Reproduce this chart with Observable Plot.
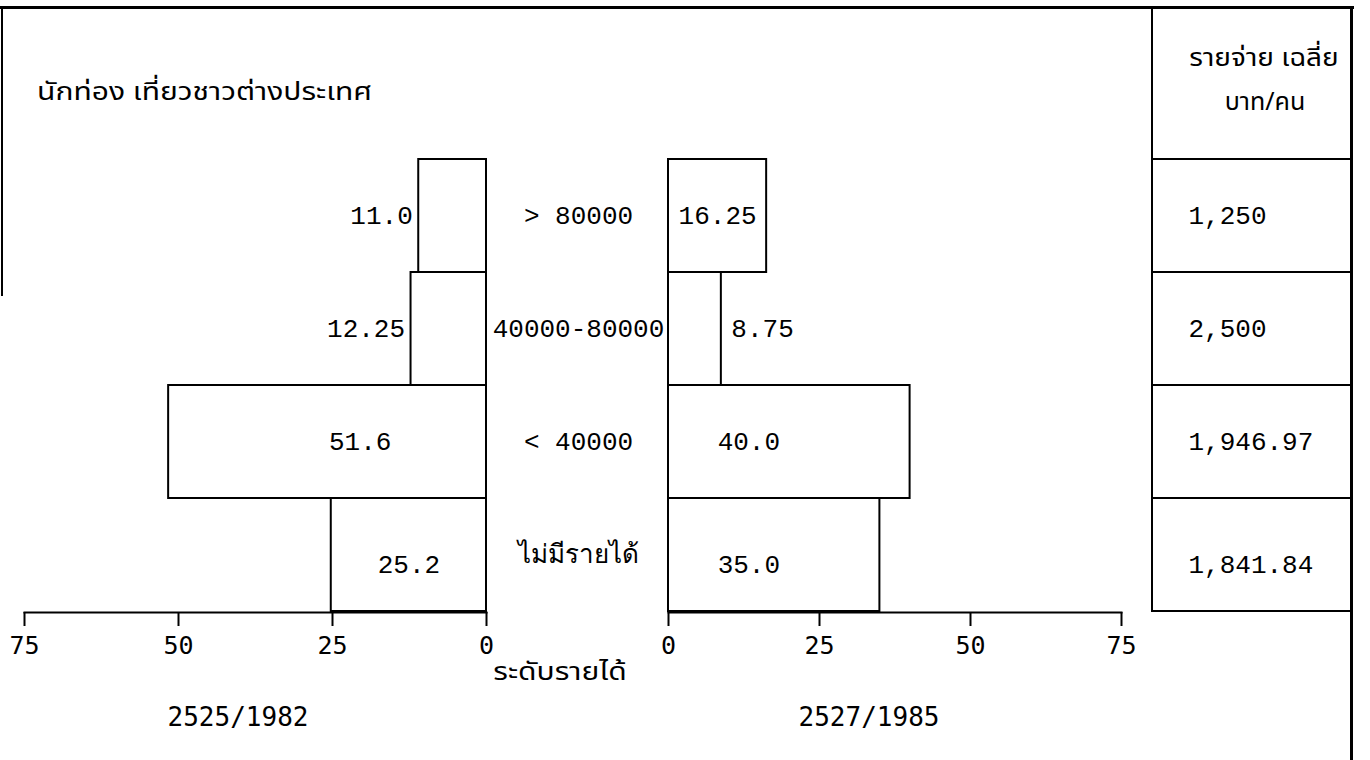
<!DOCTYPE html>
<html>
<head>
<meta charset="utf-8">
<script src="https://cdn.jsdelivr.net/npm/d3@7"></script>
<script src="https://cdn.jsdelivr.net/npm/@observablehq/plot@0.6"></script>
<style>
  body { margin: 0; background: #fff; }
  #wrap { position: relative; width: 1370px; height: 760px; overflow: hidden; background: #fff; }
  #wrap svg { position: absolute; left: 0; top: 0; }
  .ln { position: absolute; background: #000; }
  .t { position: absolute; white-space: nowrap; color: #000; line-height: 1; }
  .thai { font-family: "Noto Sans Thai", "Loma", "Garuda", "Norasi", "Tlwg Typo", "DejaVu Sans", sans-serif; font-size: 25px; }
  .mono { font-family: "DejaVu Sans Mono", monospace; font-size: 26px; }
</style>
</head>
<body>
<div id="wrap"></div>
<script>
// ---------- data ----------
const levels = ["> 80000", "40000-80000", "< 40000", "ไม่มีรายได้"];
const share1982 = [11.0, 12.25, 51.6, 25.2];
const share1985 = [16.25, 8.75, 40.0, 35.0];
const spending = [1250, 2500, 1946.97, 1841.84];
const xTicks = [0, 25, 50, 75];
const title = "นักท่อง เที่ยวชาวต่างประเทศ";
const tableHeader = ["รายจ่าย เฉลี่ย", "บาท/คน"];
const yLabel = "ระดับรายได้";
const years = ["2525/1982", "2527/1985"];

// ---------- tables ----------
const rows1982 = levels.map((level, i) => ({level, value: share1982[i]}));
const rows1985 = levels.map((level, i) => ({level, value: share1985[i]}));
const rowsSpend = levels.map((level, i) => ({level, value: spending[i]}));

const fmtShare = v => Math.abs(v * 10 - Math.round(v * 10)) < 1e-9 ? v.toFixed(1) : v.toFixed(2);
const fmtSpend = d3.format(",");

const W = 1370, H = 760;
const valueFont = {fontSize: 26, fontFamily: "Liberation Mono, monospace"};
const tickFont = {fontSize: 25, fontFamily: "DejaVu Sans Mono, monospace"};
const common = {
  width: W, height: H, marginTop: 158, marginBottom: 148,
  style: {background: "none", overflow: "visible"}
};
const yBand = {domain: levels, padding: 0};
const lastLevel = levels[levels.length - 1];

// text labels: the bottom row's labels sit slightly lower in the original
function labels(rows, options) {
  return [
    Plot.text(rows.filter(d => d.level !== lastLevel), options),
    Plot.text(rows.filter(d => d.level === lastLevel), {...options, dy: 10})
  ];
}

// ---------- left: 2525/1982 ----------
const left = Plot.plot({
  ...common, marginLeft: 24, marginRight: W - 486,
  x: {domain: [0, 75], reverse: true},
  y: {...yBand, axis: null},
  marks: [
    Plot.barX(rows1982, {x: "value", y: "level", fill: "white", stroke: "black", strokeWidth: 2}),
    Plot.frame({anchor: "bottom", strokeWidth: 2}),
    Plot.axisX({ticks: xTicks, tickSize: 14, tickPadding: 10, strokeWidth: 2, label: null, ...tickFont}),
    labels(rows1982.filter(d => d.value < 15), {
      x: "value", y: "level", text: d => fmtShare(d.value), textAnchor: "end", dx: -6, ...valueFont
    }),
    labels(rows1982.filter(d => d.value >= 15), {
      x: d => Math.min(d.value / 2, 20.5), y: "level", text: d => fmtShare(d.value), ...valueFont
    })
  ]
});

// ---------- right: 2527/1985 ----------
const right = Plot.plot({
  ...common, marginLeft: 668, marginRight: W - 1121,
  x: {domain: [0, 75]},
  y: yBand,
  marks: [
    Plot.barX(rows1985, {x: "value", y: "level", fill: "white", stroke: "black", strokeWidth: 2}),
    Plot.frame({anchor: "bottom", strokeWidth: 2}),
    Plot.axisX({ticks: xTicks, tickSize: 14, tickPadding: 10, strokeWidth: 2, label: null, ...tickFont}),
    Plot.axisY({anchor: "left", tickSize: 0, tickPadding: 90, textAnchor: "middle", label: null, ...valueFont}),
    labels(rows1985.filter(d => d.value < 12), {
      x: "value", y: "level", text: d => fmtShare(d.value), textAnchor: "start", dx: 10, ...valueFont
    }),
    labels(rows1985.filter(d => d.value >= 12), {
      x: d => Math.min(d.value / 2, 13.3), y: "level", text: d => fmtShare(d.value), ...valueFont
    })
  ]
});

// ---------- table: average spending ----------
const table = Plot.plot({
  ...common, marginLeft: 1152, marginRight: W - 1352,
  y: {...yBand, axis: null},
  marks: [
    Plot.cell(rowsSpend, {y: "level", fill: "white", stroke: "black", strokeWidth: 2}),
    labels(rowsSpend, {
      y: "level", text: d => fmtSpend(d.value), frameAnchor: "left", textAnchor: "start", dx: 36, ...valueFont
    })
  ]
});

const wrap = document.getElementById("wrap");
wrap.append(left, right, table);

// ---------- frame lines and texts ----------
function line(x, y, w, h) {
  const d = document.createElement("div");
  d.className = "ln";
  Object.assign(d.style, {left: x + "px", top: y + "px", width: w + "px", height: h + "px"});
  wrap.append(d);
}
function text(str, cls, x, y, anchor, sx = 1) {
  const d = document.createElement("div");
  d.className = "t " + cls;
  d.textContent = str;
  Object.assign(d.style, {left: x + "px", top: y + "px",
    transformOrigin: anchor === "middle" ? "50% 50%" : "0 50%",
    transform: `translate(${anchor === "middle" ? "-50%" : "0"}, -50%) scaleX(${sx})`});
  wrap.append(d);
}
line(0, 6, 1354, 3);      // top border
line(1350, 6, 3, 760);    // right border
line(1, 6, 2, 290);       // left border (partial)
line(1151, 6, 2, 153);    // table header left edge

text(title, "thai", 37, 92, "start", 1.2);
text(tableHeader[0], "thai", 1264, 58, "middle", 1.12);
text(tableHeader[1], "thai", 1265, 102, "middle");
text(yLabel, "thai", 560, 672, "middle", 1.2);
text(years[0], "mono", 238, 717, "middle");
text(years[1], "mono", 869, 717, "middle");
</script>
</body>
</html>
